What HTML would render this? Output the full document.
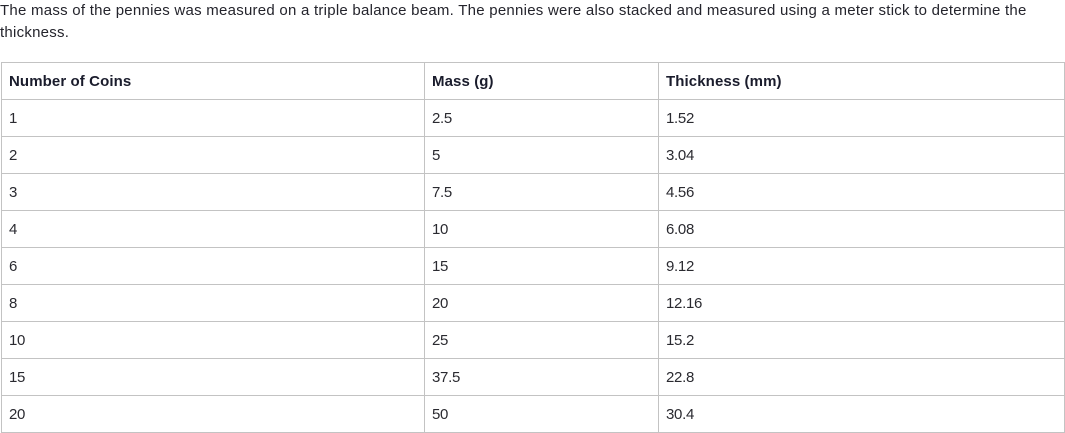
<!DOCTYPE html>
<html>
<head>
<meta charset="utf-8">
<style>
  html, body { margin:0; padding:0; background:#fff; }
  body { width:1065px; height:433px; position:relative; overflow:hidden;
         font-family:"Liberation Sans", Arial, sans-serif; font-size:15px; color:#333; }
  p { margin:0; position:absolute; left:0; top:0; line-height:22px; width:1065px; white-space:nowrap; color:#24242c; letter-spacing:0.25px; }
  table { position:absolute; left:1px; top:62px; border-collapse:collapse; table-layout:fixed; width:1063px; }
  td, th { border:1px solid #c3c3c3; height:36px; padding:1px 7px 0 7px; text-align:left; vertical-align:middle; line-height:16px; box-sizing:border-box; }
  td { color:#2a2a30; font-weight:normal; letter-spacing:-0.3px; }
  th { color:#1a1c2c; font-weight:bold; letter-spacing:0.1px; }
</style>
</head>
<body>
<p>The mass of the pennies was measured on a triple balance beam. The pennies were also stacked and measured using a meter stick to determine the<br>thickness.</p>
<table>
  <colgroup><col style="width:423px"><col style="width:234px"><col style="width:406px"></colgroup>
  <tr style="height:37px"><th>Number of Coins</th><th>Mass (g)</th><th>Thickness (mm)</th></tr>
  <tr style="height:37px"><td>1</td><td>2.5</td><td>1.52</td></tr>
  <tr style="height:37px"><td>2</td><td>5</td><td>3.04</td></tr>
  <tr style="height:37px"><td>3</td><td>7.5</td><td>4.56</td></tr>
  <tr style="height:37px"><td>4</td><td>10</td><td>6.08</td></tr>
  <tr style="height:37px"><td>6</td><td>15</td><td>9.12</td></tr>
  <tr style="height:37px"><td>8</td><td>20</td><td>12.16</td></tr>
  <tr style="height:37px"><td>10</td><td>25</td><td>15.2</td></tr>
  <tr style="height:37px"><td>15</td><td>37.5</td><td>22.8</td></tr>
  <tr style="height:37px"><td>20</td><td>50</td><td>30.4</td></tr>
</table>
</body>
</html>
